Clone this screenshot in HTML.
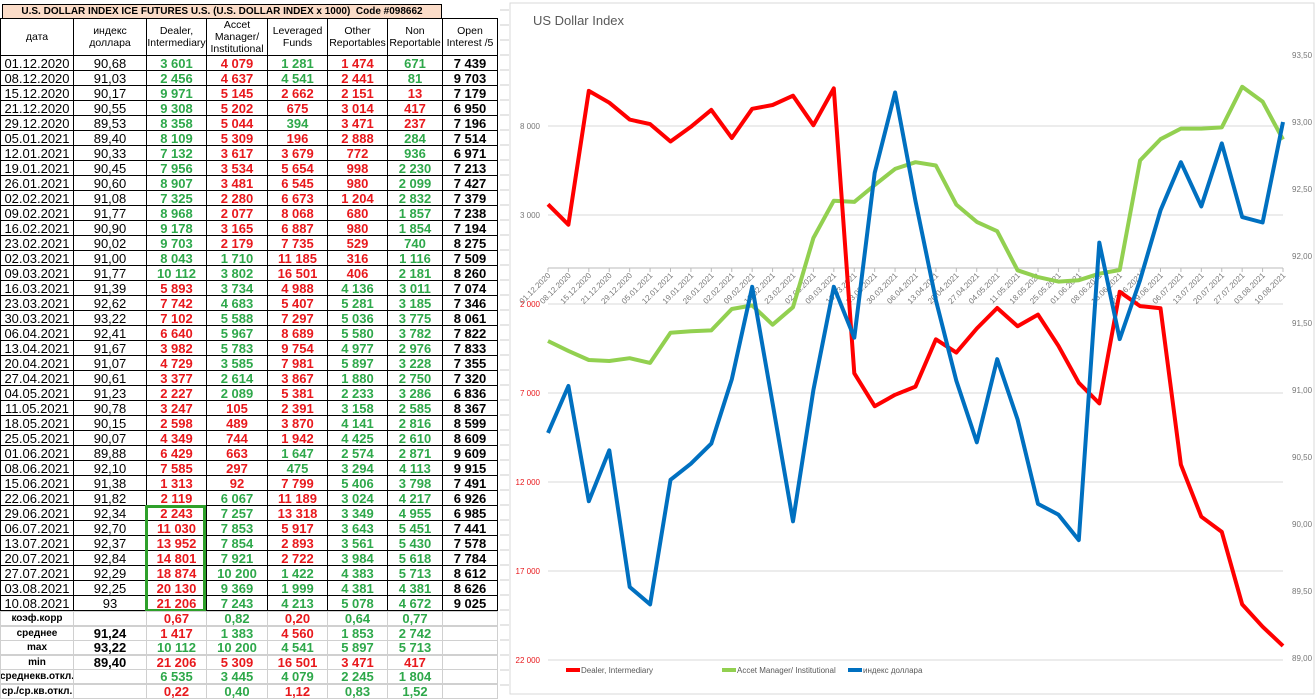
<!DOCTYPE html>
<html><head><meta charset="utf-8">
<style>
html,body{margin:0;padding:0;background:#fff;width:1315px;height:696px;overflow:hidden;font-family:"Liberation Sans",Arial,sans-serif}
#t{position:absolute;left:0;top:0;width:500px;height:696px}
.c{position:absolute;box-sizing:border-box;display:flex;align-items:center;justify-content:center;text-align:center;white-space:nowrap;overflow:hidden}
#ch{position:absolute;left:0;top:0}
</style></head><body>
<div id="t"></div>
<svg id="ch" width="1315" height="696" xmlns="http://www.w3.org/2000/svg"></svg>
<script>
(function(){
const dates=["01.12.2020","08.12.2020","15.12.2020","21.12.2020","29.12.2020","05.01.2021","12.01.2021","19.01.2021","26.01.2021","02.02.2021","09.02.2021","16.02.2021","23.02.2021","02.03.2021","09.03.2021","16.03.2021","23.03.2021","30.03.2021","06.04.2021","13.04.2021","20.04.2021","27.04.2021","04.05.2021","11.05.2021","18.05.2021","25.05.2021","01.06.2021","08.06.2021","15.06.2021","22.06.2021","29.06.2021","06.07.2021","13.07.2021","20.07.2021","27.07.2021","03.08.2021","10.08.2021"];
const idx=[90.68,91.03,90.17,90.55,89.53,89.40,90.33,90.45,90.60,91.08,91.77,90.90,90.02,91.00,91.77,91.39,92.62,93.22,92.41,91.67,91.07,90.61,91.23,90.78,90.15,90.07,89.88,92.10,91.38,91.82,92.34,92.70,92.37,92.84,92.29,92.25,93];
const dl=[3601,2456,9971,9308,8358,8109,7132,7956,8907,7325,8968,9178,9703,8043,10112,-5893,-7742,-7102,-6640,-3982,-4729,-3377,-2227,-3247,-2598,-4349,-6429,-7585,-1313,-2119,-2243,-11030,-13952,-14801,-18874,-20130,-21206];
const am=[-4079,-4637,-5145,-5202,-5044,-5309,-3617,-3534,-3481,-2280,-2077,-3165,-2179,1710,3802,3734,4683,5588,5967,5783,3585,2614,2089,-105,-489,-744,-663,-297,-92,6067,7257,7853,7854,7921,10200,9369,7243];
const lf=[1281,4541,-2662,-675,394,-196,-3679,-5654,-6545,-6673,-8068,-6887,-7735,-11185,-16501,-4988,-5407,-7297,-8689,-9754,-7981,-3867,-5381,-2391,-3870,-1942,1647,475,-7799,-11189,-13318,-5917,-2893,-2722,1422,1999,4213];
const ot=[-1474,-2441,-2151,-3014,-3471,-2888,-772,-998,-980,-1204,-680,-980,-529,-316,-406,4136,5281,5036,5580,4977,5897,1880,2233,3158,4141,4425,2574,3294,5406,3024,3349,3643,3561,3984,4383,4381,5078];
const nr=[671,81,-13,-417,-237,284,936,2230,2099,2832,1857,1854,740,1116,2181,3011,3185,3775,3782,2976,3228,2750,3286,2585,2816,2610,2871,4113,3798,4217,4955,5451,5430,5618,5713,4381,4672];
const oi=[7439,9703,7179,6950,7196,7514,6971,7213,7427,7379,7238,7194,8275,7509,8260,7074,7346,8061,7822,7833,7355,7320,6836,8367,8599,8609,9609,9915,7491,6926,6985,7441,7578,7784,8612,8626,9025];
const G="#2ea84a",R="#e8181c";
const xs=[0,73,146,206,267,327,387,442,497];
const fmt=v=>{v=Math.abs(v);return v>=1000?Math.floor(v/1000)+"\u00a0"+String(v%1000).padStart(3,"0"):String(v)};
let h="";
function cell(c0,c1,y,hh,txt,st){h+=`<div class="c" style="left:${xs[c0]}px;top:${y}px;width:${xs[c1]-xs[c0]+1}px;height:${hh+1}px;${st||""}">${txt}</div>`;}
h+=`<div class="c" style="left:2px;top:4px;width:440px;height:15px;background:#fbdcc8;border:1px solid #000;font-size:10px;font-weight:bold">U.S. DOLLAR INDEX ICE FUTURES U.S. (U.S. DOLLAR INDEX x 1000)&nbsp; Code #098662</div>`;
h+=`<div class="c" style="left:442px;top:4px;width:56px;height:15px;border-bottom:1px solid #000"></div>`;
const hd=["дата","индекс<br>доллара","Dealer,<br>Intermediary","Accet<br>Manager/<br>Institutional","Leveraged<br>Funds","Other<br>Reportables","Non<br>Reportable","Open<br>Interest /5"];
hd.forEach((s,i)=>cell(i,i+1,18,37,s,"border:1px solid #000;font-size:10.5px;line-height:12px"));
const rows=37,TOP=55,rh=15;
for(let r=0;r<rows;r++){
 const y=TOP+r*rh,b="border:1px solid #000;font-size:13px;";
 cell(0,1,y,rh,dates[r],b);
 cell(1,2,y,rh,r==36?"93":idx[r].toFixed(2).replace(".",","),b);
 [dl,am,lf,ot,nr].forEach((a,k)=>cell(k+2,k+3,y,rh,fmt(a[r]),b+"font-weight:bold;color:"+(a[r]>=0?G:R)));
 cell(7,8,y,rh,fmt(oi[r]),b+"font-weight:bold");
}
h+=`<div style="position:absolute;left:145px;top:${TOP+30*rh}px;width:61px;height:${7*rh+2}px;border:3px solid #2ea02a;box-sizing:border-box"></div>`;
const st=[["коэф.корр","",[[0.67,R],[0.82,G],[0.20,R],[0.64,G],[0.77,G]],1],
["среднее","91,24",[[1417,R],[1383,G],[4560,R],[1853,G],[2742,G]]],
["max","93,22",[[10112,G],[10200,G],[4541,G],[5897,G],[5713,G]]],
["min","89,40",[[21206,R],[5309,R],[16501,R],[3471,R],[417,R]]],
["среднекв.откл.","",[[6535,G],[3445,G],[4079,G],[2245,G],[1804,G]]],
["ср./ср.кв.откл.","",[[0.22,R],[0.40,G],[1.12,R],[0.83,G],[1.52,G]],1]];
st.forEach((s,i)=>{const y=611+i*14.6,b="border:1px solid #d0d0d0;font-weight:bold;";
 cell(0,1,y,14,s[0],b+"font-size:10px");
 cell(1,2,y,14,s[1],b+"font-size:13px");
 s[2].forEach((v,k)=>cell(k+2,k+3,y,14,s[3]?v[0].toFixed(2).replace(".",","):fmt(v[0]),b+"font-size:13px;color:"+v[1]));
 cell(7,8,y,14,"",b);
});
document.getElementById("t").innerHTML=h;
let s=`<rect x="510" y="3" width="804" height="691" fill="#fff" stroke="#d9d9d9"/>`;
for(let y=10;y<696;y+=15)s+=`<line x1="500" y1="${y}" x2="509" y2="${y}" stroke="#ccc"/>`;
s+=`<text x="533" y="25" font-size="13" fill="#595959">US Dollar Index</text>`;
const X0=548,dx=(1283-548)/36;
const yl=v=>126+(8000-v)*89/5000, yr=v=>55+(93.5-v)*134;
const lab=["8 000","3 000","2 000","7 000","12 000","17 000","22 000"];
lab.forEach((l,i)=>{const y=126+i*89;s+=`<line x1="548" y1="${y}" x2="1283" y2="${y}" stroke="#d9d9d9"/><text x="540" y="${y+3}" font-size="8" text-anchor="end" fill="${i>=2?R:'#777'}">${l}</text>`;});
["93,50","93,00","92,50","92,00","91,50","91,00","90,50","90,00","89,50","89,00"].forEach((l,i)=>{s+=`<text x="1292" y="${55+i*67+3}" font-size="8" fill="#777">${l}</text>`;});
s+=`<line x1="548" y1="268" x2="1283" y2="268" stroke="#bbb"/>`;
dates.forEach((d,i)=>{const x=X0+i*dx;s+=`<line x1="${x}" y1="268" x2="${x}" y2="272" stroke="#bbb"/><text transform="translate(${x+3},276) rotate(-45)" font-size="8" text-anchor="end" fill="#777">${d}</text>`;});
const pl=(a,f,c)=>`<polyline fill="none" stroke="${c}" stroke-width="4" stroke-linejoin="round" points="${a.map((v,i)=>(X0+i*dx).toFixed(1)+","+f(v).toFixed(1)).join(" ")}"/>`;
s+=pl(am,yl,"#92d050")+pl(dl,yl,"#ff0000")+pl(idx,yr,"#0070c0");
[["#ff0000","Dealer, Intermediary",566],["#92d050","Accet Manager/ Institutional",722],["#0070c0","индекс доллара",848]].forEach(l=>{s+=`<line x1="${l[2]}" y1="670" x2="${l[2]+14}" y2="670" stroke="${l[0]}" stroke-width="4"/><text x="${l[2]+15}" y="673" font-size="8" fill="#595959">${l[1]}</text>`;});
document.getElementById("ch").innerHTML=s;
})();
</script>
</body></html>
